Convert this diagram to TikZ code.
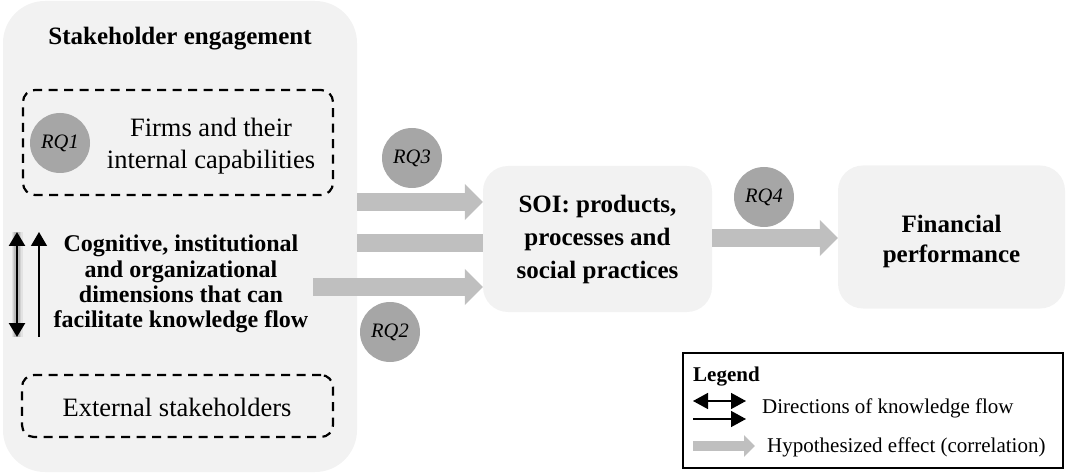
\documentclass[tikz,border=0pt]{standalone}
\usepackage{fontspec}
\setmainfont{Liberation Serif}
\usetikzlibrary{arrows.meta}

\definecolor{panel}{HTML}{F2F2F2}
\definecolor{flow}{HTML}{BFBFBF}
\definecolor{rqfill}{HTML}{A6A6A6}

% font presets
\newcommand{\hdfont}{\fontsize{25}{33}\selectfont\rmfamily\bfseries}
\newcommand{\finfont}{\fontsize{25}{30}\selectfont\rmfamily\bfseries}
\newcommand{\dimfont}{\fontsize{24}{25.3}\selectfont\rmfamily\bfseries}
\newcommand{\regfont}{\fontsize{26.5}{31.5}\selectfont\rmfamily}
\newcommand{\rqfont}{\fontsize{20.5}{22}\selectfont\rmfamily\itshape}
\newcommand{\legendfont}{\fontsize{21}{24}\selectfont\rmfamily}
\newcommand{\legendbold}{\fontsize{21}{24}\selectfont\rmfamily\bfseries}

% arrow tips
\tikzset{
  kflowhead/.tip={Triangle[length=14pt,width=16pt]},
  legendhead/.tip={Triangle[length=15pt,width=16pt]}
}

\begin{document}
\begin{tikzpicture}[x=1pt,y=-1pt,
  panelbox/.style={fill=panel, draw=none, rounded corners=#1, inner sep=0pt},
  dashbox/.style={draw=black, line width=2.2pt, dash pattern=on 9pt off 6.5pt,
    rounded corners=12pt, inner sep=0pt},
  rq/.style={circle, fill=rqfill, draw=none, minimum size=60pt, inner sep=0pt, font=\rqfont},
  effect/.style={draw=flow, line width=18.5pt, -{Triangle[length=18pt,width=35pt]}},
  flowbar/.style={draw=flow, line width=18pt}
]
\useasboundingbox (0,0) rectangle (1066,473);

% stakeholder engagement panel
\node[panelbox=42pt, minimum width=354pt, minimum height=471pt] (se) at (180,236.5) {};
\node[font=\hdfont, anchor=base] (setitle) at (180,45) {Stakeholder engagement};

\node[dashbox, minimum width=310pt, minimum height=105pt] (firms) at (178,142.5) {};
\node[rq] (rq1) at (60,143) {RQ1};
\node[font=\regfont, align=center] (firmstxt) at (211,146) {Firms and their\\internal capabilities};

\node[font=\dimfont, align=center] (dims) at (181,284)
  {Cognitive, institutional\\and organizational\\dimensions that can\\facilitate knowledge flow};

\node[dashbox, minimum width=311pt, minimum height=62pt] (ext) at (177.5,406) {};
\node[font=\regfont, anchor=base] (exttxt) at (177,416) {External stakeholders};

% knowledge flow arrows
\coordinate (kt1) at (17,232);
\coordinate (kb1) at (17,337);
\coordinate (kt2) at (39,232);
\coordinate (kb2) at (39,337);
\draw[line width=11pt, black, opacity=0.06] (kt1) -- (kb1);
\draw[line width=8pt, black, opacity=0.08] (kt1) -- (kb1);
\draw[line width=5.5pt, black, opacity=0.1] (kt1) -- (kb1);
\draw[line width=2.5pt, {kflowhead}-{kflowhead}] (kt1) -- (kb1);
\draw[line width=1.2pt, -{kflowhead}] (kb2) -- (kt2);

% outcome panels
\node[panelbox=25pt, minimum width=229pt, minimum height=146pt, font=\hdfont, align=center]
  (soi) at (597.5,239) {SOI: products,\\processes and\\social practices};
\node[panelbox=25pt, minimum width=227pt, minimum height=143pt] (fin) at (951.5,237) {};
\node[font=\finfont, align=center] (fintxt) at (951.5,241) {Financial\\performance};

% hypothesized effects
\coordinate (a3) at (0,202);
\coordinate (am) at (0,243);
\coordinate (a2) at (313,287);
\coordinate (a4) at (0,238);
\draw[effect] (se.east |- a3) -- (soi.west |- a3);
\draw[flowbar] (se.east |- am) -- (soi.west |- am);
\draw[effect] (a2) -- (soi.west |- a2);
\draw[effect] (soi.east |- a4) -- (fin.west |- a4);

\node[rq] (rq3) at (412,158) {RQ3};
\node[rq] (rq2) at (390,332) {RQ2};
\node[rq] (rq4) at (764,197) {RQ4};

% legend
\node[draw=black, line width=2.6pt, minimum width=380pt, minimum height=115pt, inner sep=0pt]
  (legend) at (873,410.5) {};
\node[font=\legendbold, anchor=base west, inner sep=0pt] (lgtitle) at (693,381) {Legend};
\coordinate (k1a) at (693,401);
\coordinate (k1b) at (746,401);
\coordinate (k2a) at (693,419);
\coordinate (k2b) at (746,419);
\draw[line width=1.5pt, {legendhead}-{legendhead}] (k1a) -- (k1b);
\draw[line width=1.5pt, -{legendhead}] (k2a) -- (k2b);
\node[font=\legendfont, anchor=base west, inner sep=0pt] (lgk) at (762,413) {Directions of knowledge flow};
\coordinate (e1a) at (693,446);
\coordinate (e1b) at (755,446);
\draw[draw=flow, line width=10pt, -{Triangle[length=11pt,width=21pt]}] (e1a) -- (e1b);
\node[font=\legendfont, anchor=base west, inner sep=0pt] (lge) at (767,452) {Hypothesized effect (correlation)};

\end{tikzpicture}
\end{document}
